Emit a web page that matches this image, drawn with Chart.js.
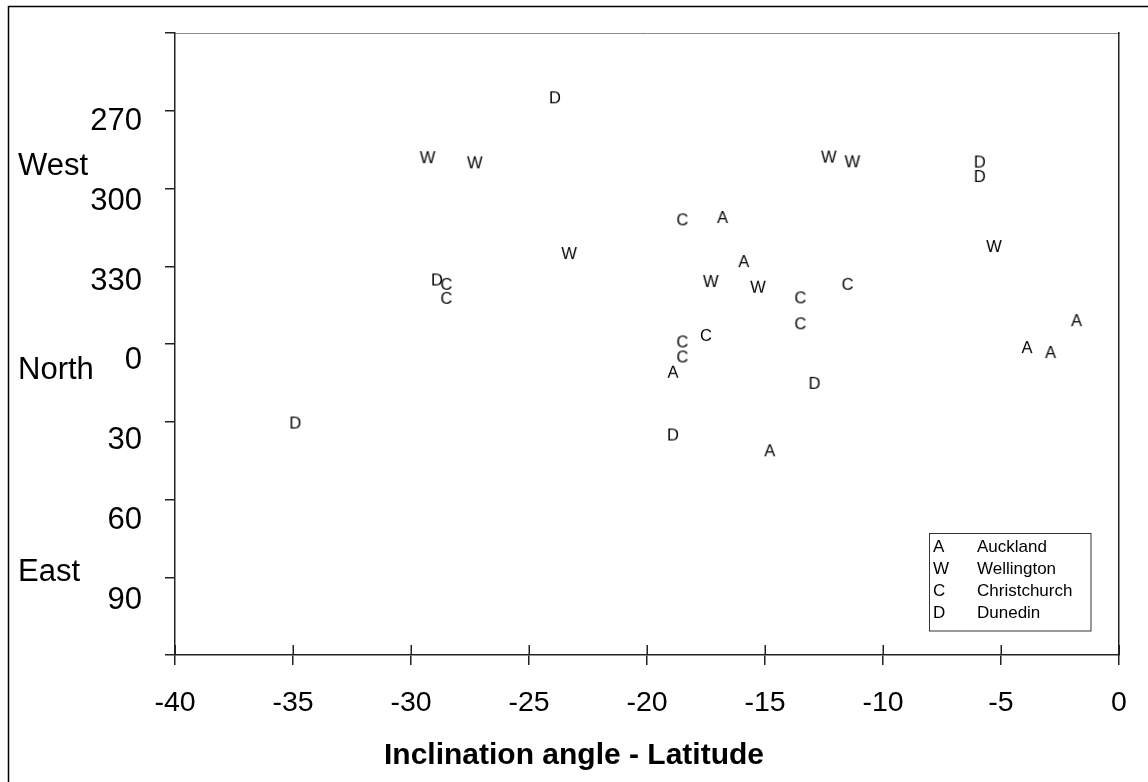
<!DOCTYPE html>
<html><head><meta charset="utf-8">
<script src="https://cdn.jsdelivr.net/npm/chart.js@4.4.1/dist/chart.umd.min.js"></script>
<style>html,body{margin:0;padding:0;background:#fff;} canvas{display:block;}</style>
</head><body>
<canvas id="c" width="1148" height="782"></canvas>
<script>
// ---- data ----
const cities = ['Auckland', 'Wellington', 'Christchurch', 'Dunedin'];
const letters = ['A', 'W', 'C', 'D'];

const aucklandLat = [-16.8, -15.9, -18.9, -14.8, -1.8, -3.9, -2.9];
const aucklandDec = [311.0, 328.0, 10.7, 41.0, 350.8, 1.2, 3.1];

const wellingtonLat = [-29.3, -27.3, -23.3, -17.3, -15.3, -12.3, -11.3, -5.3];
const wellingtonDec = [287.9, 289.9, 324.9, 335.7, 337.9, 287.7, 289.5, 322.2];

const christchurchLat = [-28.5, -28.5, -18.5, -13.5, -11.5, -13.5, -17.5, -18.5, -18.5];
const christchurchDec = [336.8, 342.2, 311.9, 342.0, 336.8, 352.0, 356.5, 359.0, 4.8];

const dunedinLat = [-23.9, -28.9, -5.9, -5.9, -12.9, -18.9, -34.9];
const dunedinDec = [264.8, 335.1, 289.6, 295.2, 15.0, 34.9, 30.3];

const yTickLabels = [270, 300, 330, 0, 30, 60, 90];
const compassLabels = ['West', 'North', 'East'];
const xTitle = 'Inclination angle - Latitude';

// ---- helpers ----
const FONT = "'Liberation Sans', Arial, Helvetica, sans-serif";
Chart.defaults.font.family = FONT;
function signed(d) { return d > 180 ? d - 360 : d; }
function letterCanvas(ch) {
  const c = document.createElement('canvas');
  c.width = 24; c.height = 24;
  const g = c.getContext('2d');
  g.font = '16.5px ' + FONT;
  g.fillStyle = '#000';
  g.textAlign = 'center';
  g.textBaseline = 'alphabetic';
  g.fillText(ch, 12, 12 + 0.358 * 16.5);
  return c;
}
const series = [
  [aucklandLat, aucklandDec],
  [wellingtonLat, wellingtonDec],
  [christchurchLat, christchurchDec],
  [dunedinLat, dunedinDec]
];
const datasets = series.map((s, i) => ({
  label: cities[i],
  data: s[0].map((x, j) => ({ x: x, y: signed(s[1][j]) })),
  pointStyle: letterCanvas(letters[i]),
  pointRadius: 8,
  showLine: false,
  xAxisID: 'x',
  yAxisID: 'y'
}));

const decor = {
  id: 'decor',
  afterDraw(chart) {
    const ctx = chart.ctx;
    const ca = chart.chartArea;
    const xs = chart.scales.x;
    const yl = chart.scales.yLab;
    ctx.save();
    // outer frame
    ctx.strokeStyle = '#000';
    ctx.lineWidth = 1.5;
    ctx.strokeRect(8.5, 6.5, 2000, 2000);
    // inner halves of x ticks
    ctx.strokeStyle = '#222';
    ctx.lineWidth = 1.5;
    xs.ticks.forEach(t => {
      const px = Math.round(xs.getPixelForValue(t.value)) + 0.25;
      ctx.beginPath();
      ctx.moveTo(px, ca.bottom - 10);
      ctx.lineTo(px, ca.bottom);
      ctx.stroke();
    });
    // compass words
    ctx.fillStyle = '#000';
    ctx.font = '31px ' + FONT;
    ctx.textAlign = 'left';
    ctx.textBaseline = 'alphabetic';
    const compassVals = [-74, 2.6, 78.5];
    compassLabels.forEach((w, i) => {
      ctx.fillText(w, 18, yl.getPixelForValue(compassVals[i]) + 0.358 * 31);
    });
    // legend box
    const bx = ca.right - 190.5, by = ca.bottom - 122.5, bw = 161.5, bh = 97.5;
    ctx.strokeStyle = '#333';
    ctx.lineWidth = 1;
    ctx.strokeRect(Math.round(bx) + 0.5, Math.round(by) + 0.5, bw, bh);
    ctx.font = '17px ' + FONT;
    ctx.fillStyle = '#000';
    chart.data.datasets.forEach((d, i) => {
      const base = by + 13.7 + i * 21.8 + 0.358 * 17;
      ctx.fillText(letters[i], bx + 4.5, base);
      ctx.fillText(d.label, bx + 48.5, base);
    });
    ctx.restore();
  }
};

new Chart(document.getElementById('c'), {
  type: 'scatter',
  data: { datasets: datasets },
  options: {
    responsive: false,
    animation: false,
    devicePixelRatio: 1,
    layout: { padding: { top: 33, left: 0, right: 0, bottom: 0 } },
    plugins: {
      legend: { display: false },
      tooltip: { enabled: false },
      title: {
        display: true, text: xTitle, position: 'bottom', color: '#000',
        font: { size: 30, weight: 'bold', family: FONT },
        padding: { top: 0, bottom: 8.5 }
      }
    },
    scales: {
      x: {
        type: 'linear', position: 'bottom', min: -40, max: 0,
        ticks: { stepSize: 5, color: '#000', padding: 21, maxRotation: 0, font: { size: 28.5 } },
        grid: { drawOnChartArea: false, drawTicks: true, tickLength: 10, color: '#222', lineWidth: 1.5 },
        border: { display: true, color: '#222', width: 1.5 },
        afterFit(s) { s.height = 82.5; s.paddingLeft = 0; s.paddingRight = 0; }
      },
      xTop: {
        type: 'linear', position: 'top', min: 0, max: 1,
        ticks: { display: false }, grid: { display: false, drawTicks: false },
        border: { display: true, color: '#8a8a8a', width: 1 },
        afterFit(s) { s.height = 0; }
      },
      y: {
        type: 'linear', position: 'left', weight: 0, min: -120, max: 120, reverse: true,
        ticks: { display: false, stepSize: 30 },
        grid: { drawOnChartArea: false, drawTicks: true, tickLength: 10, color: '#222', lineWidth: 1.5 },
        border: { display: true, color: '#222', width: 1.5 },
        afterFit(s) { s.width = 10; s.paddingTop = 0; s.paddingBottom = 0; }
      },
      yLab: {
        type: 'linear', position: 'left', weight: 1, min: -123.15, max: 110.5, reverse: true,
        afterBuildTicks(s) { s.ticks = yTickLabels.map(v => ({ value: signed(v) })); },
        ticks: { color: '#000', padding: 23, font: { size: 31 }, callback: v => (v < 0 ? v + 360 : v) },
        grid: { display: false, drawTicks: false },
        border: { display: false },
        afterFit(s) { s.width = 165; s.paddingTop = 0; s.paddingBottom = 0; }
      },
      yRight: {
        type: 'linear', position: 'right', min: 0, max: 1,
        ticks: { display: false }, grid: { display: false, drawTicks: false },
        border: { display: true, color: '#222', width: 1.5 },
        afterFit(s) { s.width = 29; }
      }
    }
  },
  plugins: [decor]
});
</script>
</body></html>
